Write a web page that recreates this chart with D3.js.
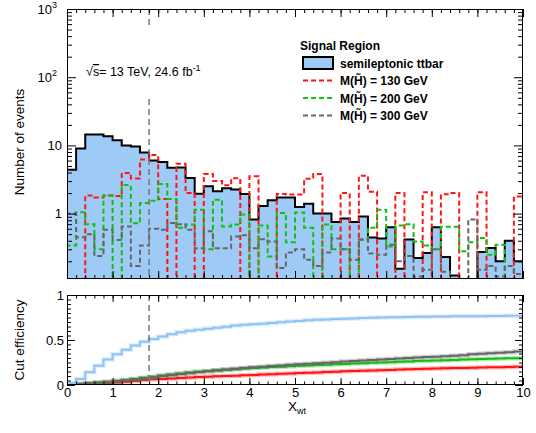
<!DOCTYPE html>
<html>
<head>
<meta charset="utf-8">
<script src="https://cdn.jsdelivr.net/npm/d3@7"></script>
<style>
  body { margin: 0; background: #fff; }
  svg { font-family: "Liberation Sans", Arial, sans-serif; }
  .tick line { stroke: #000; stroke-width: 1; }
</style>
</head>
<body>
<div id="chart"></div>
<script>
(function() {
  var width = 536, height = 433;

  // binning: 50 bins of 0.2 from 0 to 10
  var binLow = d3.range(50).map(function(i) { return i * 0.2; });
  var cutValue = 1.8;

  var ttbar = [4.4, 9.0, 14.5, 14.5, 13.6, 11.9, 10.0, 9.6, 7.9, 6.0,
    5.7, 4.7, 4.75, 3.33, 1.95, 2.51, 2.13, 2.36, 2.26, 1.94,
    0.82, 1.29, 1.57, 1.72, 1.72, 1.25, 1.40, 1.0, 1.0, 0.755,
    0.845, 0.755, 0.91, 0.445, 0.43, 0.63, 0.155, 0.416, 0.224, 0.265,
    0.63, 0.232, 0.124, 0, 0, 0.274, 0.314, 0.20, 0.40, 0.20];

  var m130 = [0, 0, 1.84, 1.73, 1.84, 1.82, 3.94, 3.26, 6.2, 7.25,
    1.64, 0, 5.4, 2.0, 0, 3.82, 3.0, 2.6, 3.3, 0,
    3.52, 0, 0, 1.94, 1.9, 1.9, 3.25, 3.8, 0, 0,
    2.0, 0, 3.6, 2.1, 0, 0, 2.0, 0, 0, 2.05,
    0, 1.92, 2.0, 0, 0, 2.05, 0, 0, 0, 1.78];

  var m200 = [0.34, 1.05, 0.70, 0.30, 1.85, 0, 2.63, 0.72, 1.43, 1.55,
    2.72, 1.64, 0.62, 0.69, 1.14, 0.30, 1.6, 0.65, 0.69, 0.97,
    0, 0.67, 0.236, 1.02, 0.38, 1.04, 0.62, 0, 0.69, 0.30,
    0.30, 0, 0.41, 0.62, 1.14, 0.33, 0.67, 0.70, 0.39, 0.34,
    0.30, 0.64, 0.64, 0.28, 0.38, 0.44, 0.25, 0.35, 0, 0];

  var m300 = [1.0, 0.45, 0.50, 0.24, 0.58, 0.41, 0.65, 0.17, 0.34, 0.60,
    0.58, 0.73, 0.70, 0.58, 0.31, 0.55, 0.31, 0.31, 0.46, 0.48,
    0.31, 0.42, 0.39, 0.16, 0.27, 0.30, 0.21, 0.17, 0.27, 0.43,
    0.30, 0.21, 0.42, 0.26, 0.25, 0.35, 0.20, 0.24, 0.12, 0.15,
    0.30, 0.14, 0, 0, 0.82, 0.15, 0.17, 0.12, 0.17, 0.13];

  // cut efficiency (lower pad)
  var effTtbar = [0.022, 0.068, 0.141, 0.213, 0.282, 0.342, 0.392, 0.440, 0.480, 0.510,
    0.539, 0.563, 0.587, 0.603, 0.613, 0.626, 0.636, 0.648, 0.660, 0.669,
    0.674, 0.680, 0.688, 0.697, 0.705, 0.711, 0.719, 0.724, 0.729, 0.732,
    0.737, 0.740, 0.745, 0.747, 0.749, 0.753, 0.753, 0.755, 0.757, 0.758,
    0.761, 0.762, 0.763, 0.763, 0.763, 0.764, 0.766, 0.767, 0.769, 0.770];

  var eff130 = [0.003, 0.006, 0.010, 0.015, 0.020, 0.027, 0.036, 0.045, 0.055, 0.063,
    0.068, 0.073, 0.078, 0.083, 0.088, 0.092, 0.096, 0.100, 0.104, 0.108,
    0.112, 0.116, 0.120, 0.124, 0.128, 0.132, 0.136, 0.140, 0.144, 0.148,
    0.152, 0.156, 0.159, 0.162, 0.165, 0.168, 0.171, 0.174, 0.177, 0.180,
    0.183, 0.186, 0.188, 0.190, 0.192, 0.194, 0.196, 0.198, 0.200, 0.202];

  var eff200 = [0.005, 0.010, 0.017, 0.025, 0.034, 0.044, 0.055, 0.067, 0.080, 0.093,
    0.105, 0.117, 0.128, 0.138, 0.147, 0.155, 0.162, 0.169, 0.176, 0.182,
    0.188, 0.194, 0.199, 0.204, 0.209, 0.214, 0.218, 0.222, 0.226, 0.230,
    0.234, 0.238, 0.242, 0.246, 0.250, 0.254, 0.258, 0.262, 0.266, 0.270,
    0.273, 0.276, 0.279, 0.282, 0.285, 0.288, 0.291, 0.294, 0.296, 0.298];

  var eff300 = [0.006, 0.012, 0.019, 0.027, 0.035, 0.044, 0.054, 0.064, 0.075, 0.087,
    0.099, 0.111, 0.122, 0.133, 0.144, 0.154, 0.163, 0.172, 0.181, 0.189,
    0.196, 0.203, 0.210, 0.217, 0.224, 0.230, 0.236, 0.242, 0.248, 0.254,
    0.260, 0.266, 0.272, 0.278, 0.283, 0.288, 0.294, 0.300, 0.305, 0.310,
    0.315, 0.320, 0.326, 0.331, 0.342, 0.347, 0.353, 0.359, 0.365, 0.372];

  var colors = { ttbar: "#9ecbf6", effTtbar: "#8fc3f2", m130: "#ff1515", m200: "#11c011", m300: "#666666" };

  var top = { left: 67, right: 523, top: 9, bottom: 279 };
  var bot = { top: 295, bottom: 385 };
  var yMin = 0.11;

  var svg = d3.select("#chart").append("svg")
    .attr("width", width)
    .attr("height", height);

  var x = d3.scaleLinear().domain([0, 10]).range([top.left, top.right]);
  var yTop = d3.scaleLog().domain([yMin, 1000]).range([top.bottom, top.top]);
  var yBot = d3.scaleLinear().domain([0, 1]).range([bot.bottom, bot.top]);

  svg.append("clipPath").attr("id", "clipTop").append("rect")
    .attr("x", top.left).attr("y", top.top)
    .attr("width", top.right - top.left).attr("height", top.bottom - top.top);
  svg.append("clipPath").attr("id", "clipBot").append("rect")
    .attr("x", top.left).attr("y", bot.top)
    .attr("width", top.right - top.left).attr("height", bot.bottom - bot.top);

  function clampLog(v) { return Math.max(v, yMin); }

  // histogram points incl. baseline at both ends
  function histPoints(vals) {
    var pts = [[0, yMin]];
    vals.forEach(function(v, i) { pts.push([binLow[i], clampLog(v)]); });
    pts.push([10, clampLog(vals[vals.length - 1])]);
    pts.push([10, yMin]);
    return pts;
  }

  var histLine = d3.line()
    .x(function(d) { return x(d[0]); })
    .y(function(d) { return yTop(d[1]); })
    .curve(d3.curveStepAfter);

  var gTop = svg.append("g").attr("clip-path", "url(#clipTop)");

  // ttbar fill + outline
  var fillPts = ttbar.map(function(v, i) { return [binLow[i], v]; }).concat([[10, ttbar[49]]]);
  gTop.append("path")
    .datum(fillPts)
    .attr("fill", colors.ttbar)
    .attr("d", d3.area()
      .x(function(d) { return x(d[0]); })
      .y0(yTop(yMin))
      .y1(function(d) { return d[1] > 0 ? yTop(d[1]) : yTop(yMin); })
      .curve(d3.curveStepAfter));

  gTop.append("path")
    .datum(histPoints(ttbar))
    .attr("fill", "none")
    .attr("stroke", "#000")
    .attr("stroke-width", 2)
    .attr("d", histLine);

  [["m130", m130], ["m200", m200], ["m300", m300]].forEach(function(s) {
    gTop.append("path")
      .datum(histPoints(s[1]))
      .attr("fill", "none")
      .attr("stroke", colors[s[0]])
      .attr("stroke-width", 2)
      .attr("stroke-dasharray", "5,3")
      .attr("d", histLine);
  });

  // cut line
  gTop.append("line")
    .attr("x1", x(cutValue)).attr("x2", x(cutValue))
    .attr("y1", top.top).attr("y2", top.bottom)
    .attr("stroke", "#777").attr("stroke-width", 1.5)
    .attr("stroke-dasharray", "6,4");

  // text pave (white, hides the cut line behind it)
  svg.append("rect")
    .attr("x", 78).attr("y", 27).attr("width", 168).attr("height", 69)
    .attr("fill", "#fff");

  var lumi = svg.append("text")
    .attr("x", 86).attr("y", 76)
    .attr("font-size", 12.5);
  lumi.append("tspan").text("\u221A");
  lumi.append("tspan").text("s").style("text-decoration", "overline");
  lumi.append("tspan").text("= 13 TeV, 24.6 fb");
  lumi.append("tspan").attr("font-size", 9).attr("dy", -5).text("-1");

  // legend
  var leg = svg.append("g").attr("font-weight", "bold").attr("font-size", 12);
  leg.append("text").attr("x", 300).attr("y", 50).text("Signal Region");
  var legItems = [
    { key: "ttbar", label: "semileptonic ttbar", y: 63 },
    { key: "m130", label: "M(H\u0303) = 130 GeV", y: 80.5 },
    { key: "m200", label: "M(H\u0303) = 200 GeV", y: 98 },
    { key: "m300", label: "M(H\u0303) = 300 GeV", y: 115.5 }
  ];
  legItems.forEach(function(d) {
    if (d.key === "ttbar") {
      leg.append("rect")
        .attr("x", 303).attr("y", d.y - 6).attr("width", 30).attr("height", 12)
        .attr("fill", colors.ttbar).attr("stroke", "#000").attr("stroke-width", 2);
    } else {
      leg.append("line")
        .attr("x1", 303).attr("x2", 334).attr("y1", d.y).attr("y2", d.y)
        .attr("stroke", colors[d.key]).attr("stroke-width", 2)
        .attr("stroke-dasharray", "5,3");
    }
    leg.append("text").attr("x", 340).attr("y", d.y + 4.5).text(d.label);
  });

  // ---- axes, top pad
  function cleanAxis(g) { g.select(".domain").remove(); }

  var xMinor = d3.range(0, 51).map(function(i) { return i * 0.2; });
  var xMajor = d3.range(0, 11);

  function drawXTicks(yPos, isTop, major, minor) {
    svg.append("g")
      .attr("transform", "translate(0," + yPos + ")")
      .call((isTop ? d3.axisTop(x) : d3.axisBottom(x)).tickValues(xMinor).tickSize(-minor).tickFormat(""))
      .call(cleanAxis);
    svg.append("g")
      .attr("transform", "translate(0," + yPos + ")")
      .call((isTop ? d3.axisTop(x) : d3.axisBottom(x)).tickValues(xMajor).tickSize(-major).tickFormat(""))
      .call(cleanAxis);
  }

  drawXTicks(top.bottom, false, 8, 4);
  drawXTicks(top.top, true, 8, 4);

  var logMinor = [];
  [0.1, 1, 10, 100].forEach(function(d) {
    d3.range(2, 10).forEach(function(k) { if (d * k >= yMin) logMinor.push(d * k); });
  });
  var logMajor = [1, 10, 100, 1000];

  [[top.left, d3.axisLeft], [top.right, d3.axisRight]].forEach(function(a) {
    svg.append("g")
      .attr("transform", "translate(" + a[0] + ",0)")
      .call(a[1](yTop).tickValues(logMinor).tickSize(-5).tickFormat(""))
      .call(cleanAxis);
    svg.append("g")
      .attr("transform", "translate(" + a[0] + ",0)")
      .call(a[1](yTop).tickValues(logMajor).tickSize(-9).tickFormat(""))
      .call(cleanAxis);
  });

  var yLabels = svg.append("g").attr("font-size", 13).attr("text-anchor", "end");
  logMajor.forEach(function(v) {
    var t = yLabels.append("text")
      .attr("x", v < 100 ? 62 : 57)
      .attr("y", yTop(v))
      .attr("dy", "0.35em");
    if (v < 100) {
      t.text(v);
    } else {
      t.append("tspan").text("10");
      t.append("tspan").attr("font-size", 9).attr("dy", -6).text(Math.round(Math.log10(v)));
    }
  });

  svg.append("rect")
    .attr("x", top.left + 0.5).attr("y", top.top + 0.5)
    .attr("width", top.right - top.left - 1).attr("height", top.bottom - top.top - 1)
    .attr("fill", "none").attr("stroke", "#000");

  svg.append("text")
    .attr("transform", "translate(24,142) rotate(-90)")
    .attr("text-anchor", "middle")
    .attr("font-size", 13.5)
    .text("Number of events");

  // ---- bottom pad
  var gBot = svg.append("g").attr("clip-path", "url(#clipBot)");

  var effLine = d3.line()
    .x(function(d) { return x(d[0]); })
    .y(function(d) { return yBot(d[1]); })
    .curve(d3.curveStepAfter);

  [["m130", eff130], ["m200", eff200], ["m300", eff300], ["effTtbar", effTtbar]].forEach(function(s) {
    var pts = s[1].map(function(v, i) { return [binLow[i], v]; }).concat([[10, s[1][49]]]);
    gBot.append("path")
      .datum(pts)
      .attr("fill", "none")
      .attr("stroke", colors[s[0]])
      .attr("stroke-opacity", 0.3)
      .attr("stroke-width", 4.5)
      .attr("d", effLine);
    gBot.append("path")
      .datum(pts)
      .attr("fill", "none")
      .attr("stroke", colors[s[0]])
      .attr("stroke-width", 2)
      .attr("d", effLine);
  });

  gBot.append("line")
    .attr("x1", x(cutValue)).attr("x2", x(cutValue))
    .attr("y1", bot.top).attr("y2", bot.bottom)
    .attr("stroke", "#777").attr("stroke-width", 1.5)
    .attr("stroke-dasharray", "6,4");

  drawXTicks(bot.top, true, 7, 3.5);
  drawXTicks(bot.bottom, false, 7, 3.5);

  svg.append("g")
    .attr("transform", "translate(0," + bot.bottom + ")")
    .call(d3.axisBottom(x).tickValues(xMajor).tickSize(0).tickPadding(3))
    .call(cleanAxis)
    .selectAll("text").attr("font-size", 13).attr("font-family", "Liberation Sans, Arial, sans-serif").attr("fill", "#000");

  var effMinor = d3.range(0, 21).map(function(i) { return i * 0.05; });
  var effMajor = [0, 0.5, 1];
  [[top.left, d3.axisLeft], [top.right, d3.axisRight]].forEach(function(a) {
    svg.append("g")
      .attr("transform", "translate(" + a[0] + ",0)")
      .call(a[1](yBot).tickValues(effMinor).tickSize(-4).tickFormat(""))
      .call(cleanAxis);
    svg.append("g")
      .attr("transform", "translate(" + a[0] + ",0)")
      .call(a[1](yBot).tickValues(effMajor).tickSize(-8).tickFormat(""))
      .call(cleanAxis);
  });

  svg.append("g")
    .attr("transform", "translate(" + top.left + ",0)")
    .call(d3.axisLeft(yBot).tickValues(effMajor).tickSize(0).tickPadding(3)
      .tickFormat(function(v) { return v === 0.5 ? "0.5" : d3.format("d")(v); }))
    .call(cleanAxis)
    .selectAll("text").attr("font-size", 13).attr("font-family", "Liberation Sans, Arial, sans-serif").attr("fill", "#000");

  svg.append("rect")
    .attr("x", top.left + 0.5).attr("y", bot.top + 0.5)
    .attr("width", top.right - top.left - 1).attr("height", bot.bottom - bot.top - 1)
    .attr("fill", "none").attr("stroke", "#000");

  svg.append("text")
    .attr("transform", "translate(24," + ((bot.top + bot.bottom) / 2) + ") rotate(-90)")
    .attr("text-anchor", "middle")
    .attr("font-size", 13.5)
    .text("Cut efficiency");

  var xt = svg.append("text")
    .attr("x", x(5) - 7).attr("y", 411)
    .attr("font-size", 13.5);
  xt.append("tspan").text("X");
  xt.append("tspan").attr("font-size", 9).attr("dy", 3).text("wt");

})();
</script>
</body>
</html>
